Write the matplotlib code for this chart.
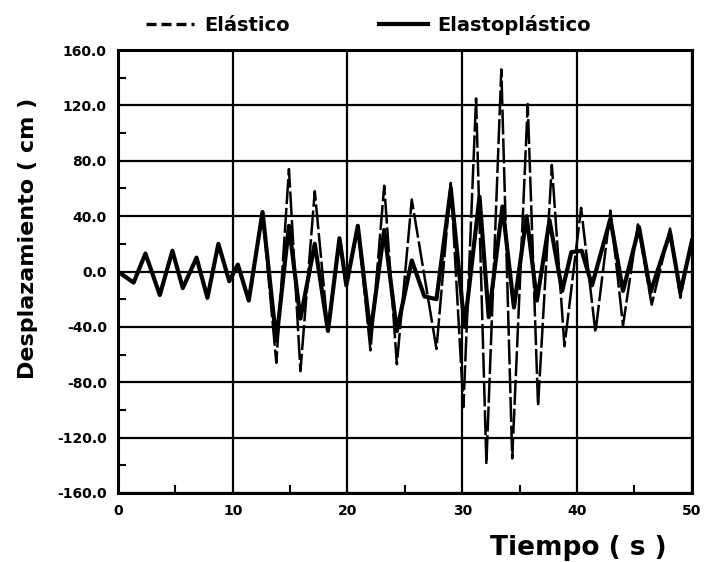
import matplotlib
matplotlib.use("Agg")
import matplotlib.pyplot as plt
from matplotlib.ticker import MultipleLocator, FixedLocator

# peaks and troughs (time in s, displacement in cm)
elastic_t = [0, 1.37, 2.4, 3.65, 4.75, 5.65, 6.85, 7.8, 8.75, 9.7, 10.45, 11.4,
             12.6, 13.8, 14.9, 15.9, 17.15, 18.3, 19.3, 19.9, 20.9, 22.0, 23.2,
             24.3, 25.6, 27.75, 29.0, 30.1, 31.2, 32.1, 33.4, 34.35, 35.7, 36.6,
             37.8, 38.9, 40.35, 41.6, 42.9, 44.0, 45.3, 46.5, 48.1, 49.0, 50.0]
elastic_v = [0, -8, 13, -17, 15, -12, 10, -19, 20, -7, 5, -21,
             43, -66, 74, -72, 58, -43, 24, -10, 33, -57, 62,
             -67, 52, -56, 64, -98, 125, -139, 146, -135, 121, -97,
             77, -54, 46, -44, 44, -39, 34, -24, 31, -19, 24]

plastic_t = [0, 1.37, 2.4, 3.65, 4.75, 5.65, 6.85, 7.8, 8.75, 9.7, 10.45, 11.4,
             12.6, 13.8, 14.9, 15.9, 17.15, 18.3, 19.3, 19.9, 20.9, 22.0, 23.2,
             24.3, 25.6, 26.7, 27.75, 29.0, 30.2, 31.5, 32.3, 33.5, 34.5, 35.6,
             36.5, 37.6, 38.7, 39.5, 40.4, 41.3, 42.9, 44.0, 45.4, 46.4, 48.1,
             49.0, 50.0]
plastic_v = [0, -8, 13, -17, 15, -12, 10, -19, 20, -7, 5, -21,
             43, -50, 33, -34, 20, -43, 24, -10, 33, -45, 30,
             -43, 8, -18, -20, 60, -40, 54, -33, 47, -26, 40,
             -21, 37, -14, 14, 15, -10, 38, -14, 32, -15, 28,
             -15, 22]

y_ticks = [160, 120, 80, 40, 0, -40, -80, -120, -160]
y_labels = ["160.0", "120.0", "80.0", "40.0", "0.0", "-40.0", "-80.0", "-120.0", "-160.0"]
x_ticks = [0, 10, 20, 30, 40, 50]

plt.rcParams["font.family"] = "DejaVu Sans"
plt.rcParams["font.weight"] = "bold"

fig = plt.figure(figsize=(7.06, 5.62), dpi=100)
ax = fig.add_axes([0.167, 0.1228, 0.813, 0.7882])

ax.plot(elastic_t, elastic_v, color="black", lw=1.8, ls=(0, (10, 1.5)),
        solid_joinstyle="round", dash_joinstyle="round", label="Elástico", zorder=3)
ax.plot(plastic_t, plastic_v, color="black", lw=3.0,
        solid_joinstyle="round", label="Elastoplástico", zorder=4)

ax.set_xlim(0, 50)
ax.set_ylim(-160, 160)
ax.set_yticks(y_ticks)
ax.set_yticklabels(y_labels)
ax.set_xticks(x_ticks)
ax.xaxis.set_minor_locator(FixedLocator([5, 15, 25, 35, 45]))
ax.yaxis.set_minor_locator(MultipleLocator(20))
ax.grid(True, which="major", color="black", lw=1.6, zorder=1)
ax.tick_params(which="major", length=0, labelsize=10, pad=8)
ax.tick_params(which="minor", direction="in", length=6, width=1.5)
for s in ax.spines.values():
    s.set_linewidth(2.2)

ax.set_ylabel("Desplazamiento ( cm )", fontsize=16, fontweight="bold")
ax.yaxis.set_label_coords(-0.14, 0.575)
ax.set_xlabel("Tiempo ( s )", fontsize=19, fontweight="bold")
ax.xaxis.set_label_coords(0.803, -0.095)

# legend handles: dashed style for the elastic curve, as in the original key
leg = fig.legend(loc="upper center", bbox_to_anchor=(0.522, 1.005), ncol=2, frameon=False,
                 fontsize=14, handlelength=2.5, columnspacing=4.6, handletextpad=0.5)
leg.get_lines()[0].set_linestyle((0, (3, 1.5)))
leg.get_lines()[0].set_linewidth(2.4)

fig.savefig("out.png", dpi=100)
